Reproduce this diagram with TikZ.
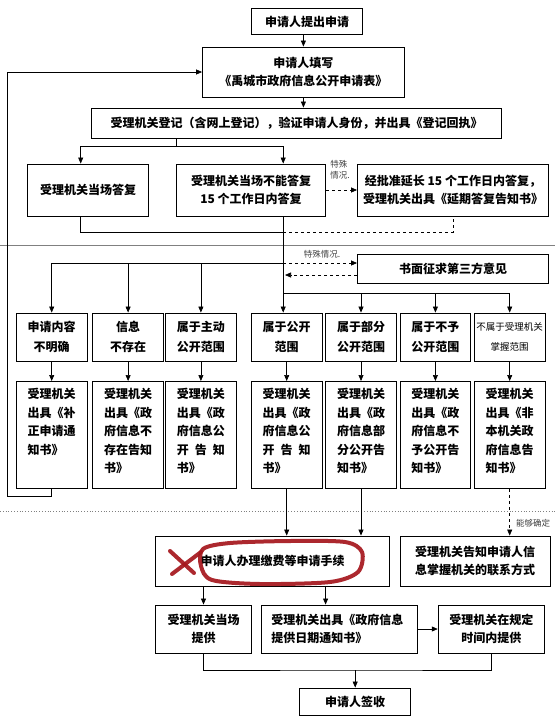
\documentclass[tikz,border=0pt]{standalone}
\usepackage{fontspec}
\setmainfont{Noto Sans CJK SC}
\usepackage{xcolor}
\usetikzlibrary{arrows.meta,positioning,calc}
\definecolor{penred}{RGB}{165,22,28}
\newcommand{\notelines}[1]{\parbox[c][93pt][t]{48pt}{\raggedright #1}}
\tikzset{
  box/.style={rectangle, draw, line width=0.9pt, align=center, inner sep=2pt, font=\bfseries\fontsize{12}{18.5}\selectfont},
  kindbox/.style={box, minimum width=70.5pt, minimum height=48pt, font=\bfseries\fontsize{12}{20.5}\selectfont},
  notebox/.style={box, minimum width=70.5pt, minimum height=107pt, inner sep=7pt, anchor=north},
  arrow/.style={-{Triangle[length=6pt,width=5pt]}, line width=0.7pt},
  dasharrow/.style={arrow, dashed},
  link/.style={line width=0.7pt},
  tag/.style={font=\fontsize{8.5}{11}\selectfont, text=black!75, inner sep=0pt, align=left},
  scribble/.style={draw=penred, line width=4pt, line cap=round, line join=round, opacity=0.92},
}

\begin{document}
\begin{tikzpicture}[x=1pt, y=-1pt]
  \useasboundingbox (0,0) rectangle (555,721);

  % Separators
  \draw[gray, line width=1pt] (0,245) -- (555,245);
  \draw[gray, dotted, line width=0.8pt] (0,511) -- (555,511);

  % Application
  \node[box, minimum width=111.5pt, minimum height=26pt] (start) at (307,21.5) {申请人提出申请};
  \node[box, minimum width=201.7pt, minimum height=50pt] (fill) at (303.4,72) {申请人填写\\《禹城市政府信息公开申请表》};
  \node[box, minimum width=410.6pt, minimum height=30pt] (reg) at (296.6,123) {受理机关登记（含网上登记），验证申请人身份，并出具《登记回执》};

  % Reply
  \node[box, minimum width=121.4pt, minimum height=52pt] (ans1) at (88,190) {受理机关当场答复};
  \node[box, minimum width=149.3pt, minimum height=52pt] (ans2) at (251,190) {受理机关当场不能答复\\15 个工作日内答复};
  \node[box, minimum width=191pt, minimum height=52pt] (ext) at (453,190) {经批准延长 15 个工作日内答复，\\受理机关出具《延期答复告知书》};
  \node[box, minimum width=191pt, minimum height=29pt] (third) at (453,268.5) {书面征求第三方意见};

  % Kinds of request
  \node[kindbox] (c1) at (51.7,337) {申请内容\\不明确};
  \node[kindbox] (c2) at (128.1,337) {信息\\不存在};
  \node[kindbox] (c3) at (200.9,337) {属于主动\\公开范围};
  \node[kindbox] (c4) at (286.7,337) {属于公开\\范围};
  \node[kindbox] (c5) at (361,337) {属于部分\\公开范围};
  \node[kindbox] (c6) at (435.4,337) {属于不予\\公开范围};
  \node[kindbox, font=\fontsize{9.5}{20.5}\selectfont] (c7) at (509.7,337) {不属于受理机关\\掌握范围};

  % Notices
  \node[notebox] (d1) at (51.7,381) {\notelines{受理机关\\出具《补\\正申请通\\知书》}};
  \node[notebox] (d2) at (128.1,381) {\notelines{受理机关\\出具《政\\府信息不\\存在告知\\书》}};
  \node[notebox] (d3) at (200.9,381) {\notelines{受理机关\\出具《政\\府信息公\\开\hspace{6pt}告\hspace{6pt}知\\书》}};
  \node[notebox] (d4) at (286.7,381) {\notelines{受理机关\\出具《政\\府信息公\\开\hspace{6pt}告\hspace{6pt}知\\书》}};
  \node[notebox] (d5) at (361,381) {\notelines{受理机关\\出具《政\\府信息部\\分公开告\\知书》}};
  \node[notebox] (d6) at (435.4,381) {\notelines{受理机关\\出具《政\\府信息不\\予公开告\\知书》}};
  \node[notebox] (d7) at (509.7,381) {\notelines{受理机关\\出具《非\\本机关政\\府信息告\\知书》}};

  % Providing
  \node[box, minimum width=233.6pt, minimum height=50pt] (pay) at (272.5,561) {申请人办理缴费等申请手续};
  \node[box, minimum width=150.4pt, minimum height=50pt] (info) at (475.2,561) {受理机关告知申请人信\\息掌握机关的联系方式};
  \node[box, minimum width=95.6pt, minimum height=48pt] (onsite) at (203.5,629) {受理机关当场\\提供};
  \node[box, minimum width=156.5pt, minimum height=48pt, text width=136pt, align=left] (notice) at (339.4,629) {受理机关出具《政府信息\\提供日期通知书》};
  \node[box, minimum width=106.2pt, minimum height=48pt] (timely) at (491.3,629) {受理机关在规定\\时间内提供};
  \node[box, minimum width=110.8pt, minimum height=27pt] (sign) at (355.2,701.5) {申请人签收};

  % Small labels
  \node[tag] (spec1) at (340,170) {特殊\\情况.};
  \node[tag] (spec2) at (322,254) {特殊情况.};
  \node[tag] (sure) at (533,523) {能够确定};

  % Helper points
  \coordinate (split) at (176.3,146);
  \coordinate (s1) at (80.7,146);
  \coordinate (trunk) at (283.2,146);
  \coordinate (low) at (80.7,232);
  \coordinate (mid) at (283.2,232);
  \coordinate (fork1) at (283.2,263);
  \coordinate (back) at (285,275);
  \coordinate (fork2) at (283.2,293);
  \coordinate (loopc) at (7,496.7);
  \coordinate (p2) at (325.6,600);
  \coordinate (join) at (355.2,670);

  % Arrows
  \draw[arrow] (start.south -| fill.north) -- (fill.north);
  \draw[arrow] (fill.south) -- (fill.south |- reg.north);
  \draw[link] (reg.south -| split) -- (split);
  \draw[link] (s1) -- (trunk);
  \draw[arrow] (s1) -- (s1 |- ans1.north);
  \draw[arrow] (trunk) -- (trunk |- ans2.north);
  \draw[dasharrow] (ans2.east) -- (ext.west);
  \draw[link] (s1 |- ans1.south) -- (low) -- (mid);
  \draw[link, dashed] (mid) -| (ext.south);
  \draw[arrow] (trunk |- ans2.south) -- (trunk |- c4.north);

  \draw[link] (fork1) -- (fork1 -| c1.north);
  \foreach \k in {c1,c2,c3}
    \draw[arrow] (fork1 -| \k.north) -- (\k.north);
  \draw[dasharrow] (fork1) -- (fork1 -| third.west);
  \draw[dasharrow] (third.west |- back) -- (back);
  \draw[link] (fork2) -- (fork2 -| c7.north);
  \foreach \k in {c5,c6,c7}
    \draw[arrow] (fork2 -| \k.north) -- (\k.north);

  \foreach \i in {1,...,7}
    \draw[arrow] (c\i.south) -- (d\i.north);

  \draw[arrow] (d1.south) |- (loopc) |- (fill.west);
  \draw[arrow] (d4.south) -- (d4.south |- pay.north);
  \draw[arrow] (d5.south) -- (d5.south |- pay.north);
  \draw[dasharrow] (d7.south) -- (d7.south |- info.north);

  \draw[arrow] (onsite.north |- pay.south) -- (onsite.north);
  \draw[arrow] (pay.south -| p2) -- (notice.north -| p2);
  \draw[arrow] (notice) -- (timely);
  \draw[link] (onsite.south) |- (join) -| (timely.south);
  \draw[arrow] (join) -- (sign.north);

  % Red pen marks
  \draw[scribble] (170,551) -- (194,573);
  \draw[scribble] (172,574) -- (201,552);
  \draw[scribble] plot[smooth cycle] coordinates {(203,549) (230,543) (290,541) (345,542) (362,552) (358,572) (330,582) (260,584) (212,580) (201,566)};
\end{tikzpicture}
\end{document}
